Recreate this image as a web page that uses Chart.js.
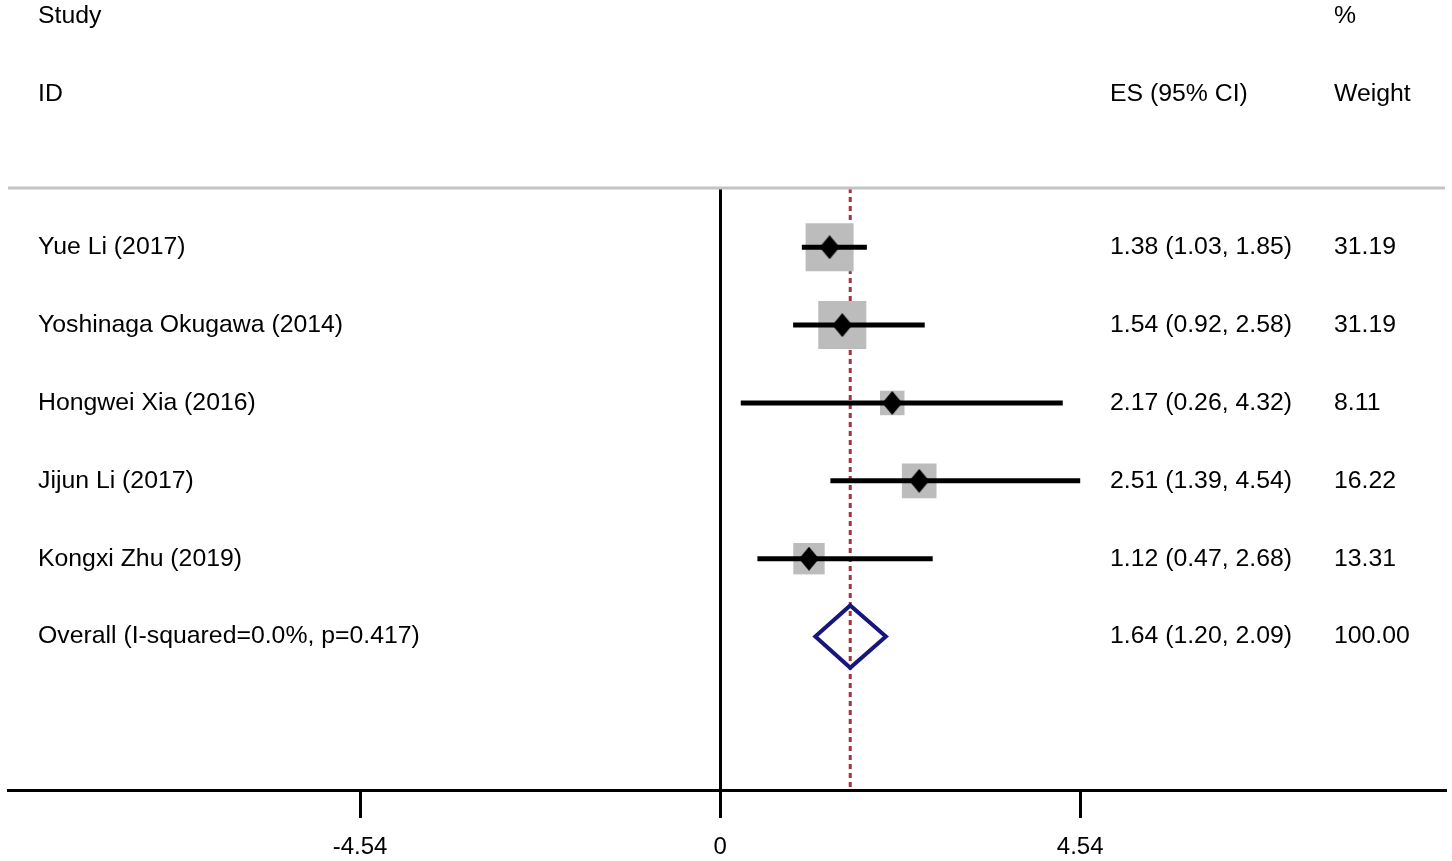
<!DOCTYPE html>
<html>
<head>
<meta charset="utf-8">
<script src="https://cdn.jsdelivr.net/npm/chart.js@4.4.0/dist/chart.umd.min.js"></script>
<style>
html,body{margin:0;padding:0;background:#fff}
canvas{display:block}
</style>
</head>
<body>
<canvas id="forest" width="1452" height="861"></canvas>
<script>
// study rows, top to bottom
const studies = ["Yue Li (2017)", "Yoshinaga Okugawa (2014)", "Hongwei Xia (2016)", "Jijun Li (2017)", "Kongxi Zhu (2019)"]
const es = [1.38, 1.54, 2.17, 2.51, 1.12]
const lower = [1.03, 0.92, 0.26, 1.39, 0.47]
const upper = [1.85, 2.58, 4.32, 4.54, 2.68]
const weights = [31.19, 31.19, 8.11, 16.22, 13.31]

const overallLabel = "Overall (I-squared=0.0%, p=0.417)"
const overallES = 1.64
const overallCI = [1.20, 2.09]
const overallWeight = 100.00

const xTicks = [-4.54, 0, 4.54]
const xRange = [-8.98, 9.14]
const yRange = [0.24, 7.97]

const FONT = '"Liberation Sans", Arial, sans-serif'
Chart.defaults.font.family = FONT

const overallRow = studies.length + 1

// black diamond used as the point marker
const marker = document.createElement('canvas')
marker.width = 20
marker.height = 24
const m = marker.getContext('2d')
m.fillStyle = '#000'
m.beginPath()
m.moveTo(10, 0); m.lineTo(20, 12); m.lineTo(10, 24); m.lineTo(0, 12)
m.closePath()
m.fill()

const ciSets = studies.map((s, i) => ({
  data: [{x: lower[i], y: i + 1}, {x: upper[i], y: i + 1}],
  showLine: true,
  borderColor: '#000',
  borderWidth: 5,
  pointRadius: 0,
  order: 3
}))

const dh = 0.4
const datasets = [
  {
    // reference line at the pooled estimate
    data: [{x: overallES, y: yRange[0]}, {x: overallES, y: yRange[1]}],
    showLine: true,
    borderColor: '#a3343c',
    borderWidth: 3,
    borderDash: [5, 4],
    pointRadius: 0,
    order: 6
  },
  {
    // weight boxes
    data: es.map((v, i) => ({x: v, y: i + 1})),
    pointStyle: 'rect',
    pointRadius: ctx => 8.6 * Math.sqrt(weights[ctx.dataIndex]) / Math.SQRT2,
    backgroundColor: '#bcbcbc',
    borderWidth: 0,
    order: 5
  },
  ...ciSets,
  {
    data: [
      {x: overallCI[0], y: overallRow},
      {x: overallES, y: overallRow - dh},
      {x: overallCI[1], y: overallRow},
      {x: overallES, y: overallRow + dh},
      {x: overallCI[0], y: overallRow},
      {x: overallES, y: overallRow - dh}
    ],
    showLine: true,
    borderColor: '#16167c',
    borderWidth: 4,
    borderJoinStyle: 'miter',
    pointRadius: 0,
    order: 2
  },
  {
    data: es.map((v, i) => ({x: v, y: i + 1})),
    pointStyle: marker,
    pointRadius: 10,
    order: 1
  }
]

const textPlugin = {
  id: 'forestText',
  afterDraw(chart) {
    const c = chart.ctx
    const y = chart.scales.y
    const area = chart.chartArea
    c.save()
    c.strokeStyle = '#c4c4c4'
    c.lineWidth = 3
    c.beginPath()
    c.moveTo(area.left, area.top)
    c.lineTo(area.right, area.top)
    c.stroke()

    c.font = '24.8px ' + FONT
    c.fillStyle = '#000'
    c.textBaseline = 'middle'
    c.textAlign = 'left'
    const colLabel = 38, colES = 1110, colW = 1334
    const py = v => y.getPixelForValue(v)

    c.fillText('Study', colLabel, py(-2) + 3)
    c.fillText('%', colW, py(-2) + 3)
    c.fillText('ID', colLabel, py(-1) + 3)
    c.fillText('ES (95% CI)', colES, py(-1) + 3)
    c.fillText('Weight', colW, py(-1) + 3)

    studies.forEach((s, i) => {
      const yy = py(i + 1)
      c.fillText(s, colLabel, yy)
      c.fillText(es[i].toFixed(2) + ' (' + lower[i].toFixed(2) + ', ' + upper[i].toFixed(2) + ')', colES, yy)
      c.fillText(weights[i].toFixed(2), colW, yy)
    })
    const yo = py(overallRow)
    c.fillText(overallLabel, colLabel, yo)
    c.fillText(overallES.toFixed(2) + ' (' + overallCI[0].toFixed(2) + ', ' + overallCI[1].toFixed(2) + ')', colES, yo)
    c.fillText(overallWeight.toFixed(2), colW, yo)
    c.restore()
  }
}

new Chart(document.getElementById('forest'), {
  type: 'scatter',
  data: {datasets: datasets},
  options: {
    responsive: false,
    animation: false,
    events: [],
    layout: {autoPadding: false, padding: {top: 188, left: 8, right: 7, bottom: 0}},
    plugins: {legend: {display: false}, tooltip: {enabled: false}},
    scales: {
      x: {
        type: 'linear',
        min: xRange[0],
        max: xRange[1],
        afterBuildTicks: s => { s.ticks = xTicks.map(v => ({value: v})) },
        afterFit: s => {
          s.height = 71
          s.paddingLeft = 0
          s.paddingRight = 0
        },
        border: {display: true, color: '#000', width: 3},
        grid: {
          color: ctx => (ctx.tick && ctx.tick.value === 0) ? '#000' : 'rgba(0,0,0,0)',
          lineWidth: 3,
          tickColor: '#000',
          tickLength: 28,
          drawTicks: true
        },
        ticks: {
          color: '#000',
          font: {size: 24},
          padding: 15,
          autoSkip: false,
          maxRotation: 0,
          callback: v => String(v)
        }
      },
      y: {
        display: false,
        reverse: true,
        min: yRange[0],
        max: yRange[1]
      }
    }
  },
  plugins: [textPlugin]
})
</script>
</body>
</html>
